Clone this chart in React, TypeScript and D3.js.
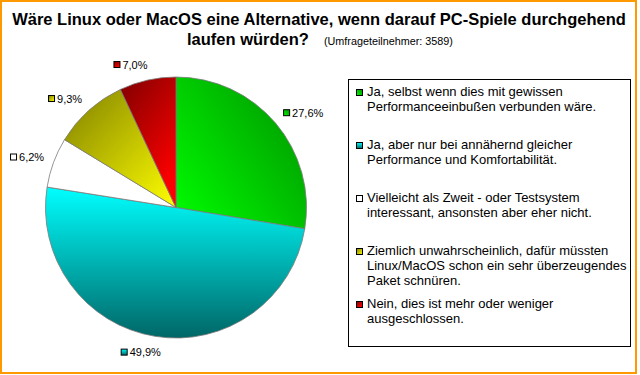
import React from "react";
import * as d3 from "d3";

const titleLine1 = "Wäre Linux oder MacOS eine Alternative, wenn darauf PC-Spiele durchgehend";
const titleLine2 = "laufen würden?";
const subtitle = "(Umfrageteilnehmer: 3589)";

const categories = [
  ["Ja, selbst wenn dies mit gewissen", "Performanceeinbußen verbunden wäre."],
  ["Ja, aber nur bei annähernd gleicher", "Performance und Komfortabilität."],
  ["Vielleicht als Zweit - oder Testsystem", "interessant, ansonsten aber eher nicht."],
  ["Ziemlich unwahrscheinlich, dafür müssten", "Linux/MacOS schon ein sehr überzeugendes", "Paket schnüren."],
  ["Nein, dies ist mehr oder weniger", "ausgeschlossen."],
];
const values = [27.6, 49.9, 6.2, 9.3, 7.0];
const gradStops = [
  ["#00FF00", "#009900"],
  ["#00FFFF", "#006666"],
  ["#FFFFFF", "#FFFFFF"],
  ["#808000", "#FFFF00"],
  ["#800000", "#FF0000"],
];
const gradDirs = [
  [0, 1, 1, 0.2],
  [0, 0, 0, 1],
  [0, 0, 0, 1],
  [0, 0, 1, 1],
  [0, 0, 0.6, 1],
];

const W = 640;
const H = 375;
const FONT = "'Liberation Sans', Arial, sans-serif";

const charW: Record<string, number> = { ",": 0.278, "%": 0.889 };
function textWidth(s: string, size: number) {
  let w = 0;
  for (const c of s) w += charW[c] ?? 0.556;
  return w * size;
}

export default function App() {
  const cx = 176;
  const cy = 207.5;
  const r = 130.5;
  const pie = d3.pie<number>().sort(null).value((d) => d).startAngle(0).endAngle(2 * Math.PI);
  const arcs = pie(values);
  const arc = d3.arc<d3.PieArcDatum<number>>().innerRadius(0).outerRadius(r);
  const fmt = (v: number) => v.toFixed(1).replace(".", ",") + "%";

  const labelR = r + 10;
  const labelSize = 11;

  const legendX = 348;
  const legendY = 79;
  const legendW = 282;
  const legendH = 267;
  const legendStep = 53;
  const legendFirstBaseline = 96;
  const lineH = 15;

  return (
    <svg width={W} height={H} style={{ position: "absolute", left: 0, top: 0 }} fontFamily={FONT}>
      <defs>
        {gradStops.map((s, i) => (
          <linearGradient
            key={i}
            id={`g${i}`}
            x1={gradDirs[i][0]}
            y1={gradDirs[i][1]}
            x2={gradDirs[i][2]}
            y2={gradDirs[i][3]}
          >
            <stop offset="0" stopColor={s[0]} />
            <stop offset="1" stopColor={s[1]} />
          </linearGradient>
        ))}
      </defs>
      <rect x={0} y={0} width={W} height={H} fill="#fff" />
      <rect x={1} y={1} width={635} height={372} fill="#fff" stroke="#FF9900" strokeWidth={2} />

      <text x={319} y={25} textAnchor="middle" fontSize={16.5} fontWeight="bold" fill="#000">
        {titleLine1}
      </text>
      <text x={187} y={45} fontSize={16.5} fontWeight="bold" fill="#000">
        {titleLine2}
        <tspan fontSize={10.8} fontWeight="normal" dx={15}>
          {subtitle}
        </tspan>
      </text>

      <g transform={`translate(${cx},${cy})`}>
        {arcs.map((a, i) => (
          <path key={i} d={arc(a) || ""} fill={`url(#g${i})`} stroke="#7a7a7a" strokeWidth={0.8} />
        ))}
      </g>

      {arcs.map((a, i) => {
        const mid = (a.startAngle + a.endAngle) / 2;
        const s = Math.sin(mid);
        const c = Math.cos(mid);
        const txt = fmt(values[i]);
        const w = 9 + textWidth(txt, labelSize);
        const h = 12;
        const px = cx + s * labelR;
        const py = cy - c * labelR;
        const factor = Math.min(1, Math.abs(s) * 4);
        const bx = px + Math.sign(s) * factor * w / 2 - w / 2;
        const by = py - c * h / 2;
        return (
          <g key={i}>
            <rect x={bx + 0.5} y={by - 3} width={6} height={6} fill={`url(#g${i})`} stroke="#000" strokeWidth={1} />
            <text x={bx + 9} y={by + 4} fontSize={labelSize} fill="#000">
              {txt}
            </text>
          </g>
        );
      })}

      <rect x={legendX + 0.5} y={legendY + 0.5} width={legendW} height={legendH} fill="#fff" stroke="#000" strokeWidth={1} />
      {categories.map((lines, i) => {
        const base = legendFirstBaseline + i * legendStep;
        return (
          <g key={i}>
            <rect x={356.5} y={base - 6.5} width={6} height={6} fill={`url(#g${i})`} stroke="#000" strokeWidth={1} />
            {lines.map((ln, j) => (
              <text key={j} x={367} y={base + j * lineH} fontSize={13} fill="#000">
                {ln}
              </text>
            ))}
          </g>
        );
      })}
    </svg>
  );
}
